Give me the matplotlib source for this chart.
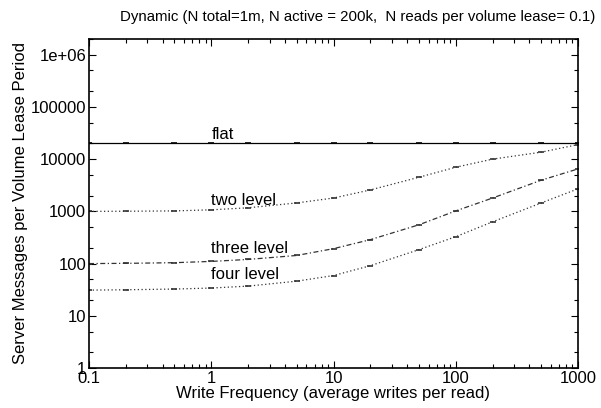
import matplotlib
matplotlib.use("Agg")
import matplotlib.pyplot as plt
from matplotlib.ticker import FixedLocator, LogLocator, NullFormatter

plt.rcParams["font.family"] = ["Liberation Sans", "DejaVu Sans"]
plt.rcParams["font.size"] = 12

# write frequency sample points
write_freq = [0.1, 0.2, 0.5, 1, 2, 5, 10, 20, 50, 100, 200, 500, 1000]

flat = [20000] * 13
two_level = [1000, 1005, 1020, 1070, 1170, 1450, 1800, 2570, 4500, 7000, 10000, 13600, 19000]
three_level = [100, 101, 104, 110, 120, 143, 193, 287, 553, 1020, 1800, 3950, 6500]
four_level = [31, 31.5, 32.5, 34, 37, 46, 59, 91, 185, 327, 630, 1450, 2700]

curve_labels = ["flat", "two level", "three level", "four level"]
label_y = [30000, 1650, 193, 62]

xticks = [0.1, 1, 10, 100, 1000]
xtick_labels = ["0.1", "1", "10", "100", "1000"]
yticks = [1, 10, 100, 1000, 10000, 100000, 1000000]
ytick_labels = ["1", "10", "100", "1000", "10000", "100000", "1e+06"]

fig = plt.figure(figsize=(6.01, 4.08), dpi=100)
ax = fig.add_axes([89 / 601, 1 - 368 / 408, (578 - 89) / 601, (368 - 39) / 408])

ax.plot(write_freq, flat, color="black", lw=0.9, marker="_", ms=4, mew=1.2)
ax.plot(write_freq, two_level, color="#333333", lw=0.9, ls=(0, (1, 2)),
        marker="_", ms=4, mew=1.2)
ax.plot(write_freq, three_level, color="#333333", lw=0.9, ls=(0, (4, 2, 1, 2)),
        marker="_", ms=4, mew=1.2)
ax.plot(write_freq, four_level, color="#333333", lw=0.9, ls=(0, (1, 2)),
        marker="_", ms=4, mew=1.2)

for txt, y in zip(curve_labels, label_y):
    ax.text(1.0, y, txt, ha="left", va="center", fontsize=12)

ax.set_xscale("log")
ax.set_yscale("log")
ax.set_xlim(0.1, 1000)
ax.set_ylim(1, 2e6)

ax.xaxis.set_major_locator(FixedLocator(xticks))
ax.set_xticklabels(xtick_labels)
ax.yaxis.set_major_locator(FixedLocator(yticks))
ax.set_yticklabels(ytick_labels)
ax.xaxis.set_minor_locator(LogLocator(base=10, subs=range(2, 10)))
ax.yaxis.set_minor_locator(LogLocator(base=10, subs=(2, 5)))
ax.xaxis.set_minor_formatter(NullFormatter())
ax.yaxis.set_minor_formatter(NullFormatter())

ax.tick_params(which="both", direction="in", top=True, right=True, width=0.8)
ax.tick_params(which="major", length=5, pad=2)
ax.tick_params(which="minor", length=3)
for side in ["left", "bottom", "right", "top"]:
    ax.spines[side].set_linewidth(1.2)

ax.set_xlabel("Write Frequency (average writes per read)", labelpad=0)
ax.set_ylabel("Server Messages per Volume Lease Period", labelpad=2)
fig.text(358 / 601, 1 - 17 / 408,
         "Dynamic (N total=1m, N active = 200k,  N reads per volume lease= 0.1)",
         ha="center", va="center", fontsize=10.8)

fig.savefig("out.png", dpi=100)
